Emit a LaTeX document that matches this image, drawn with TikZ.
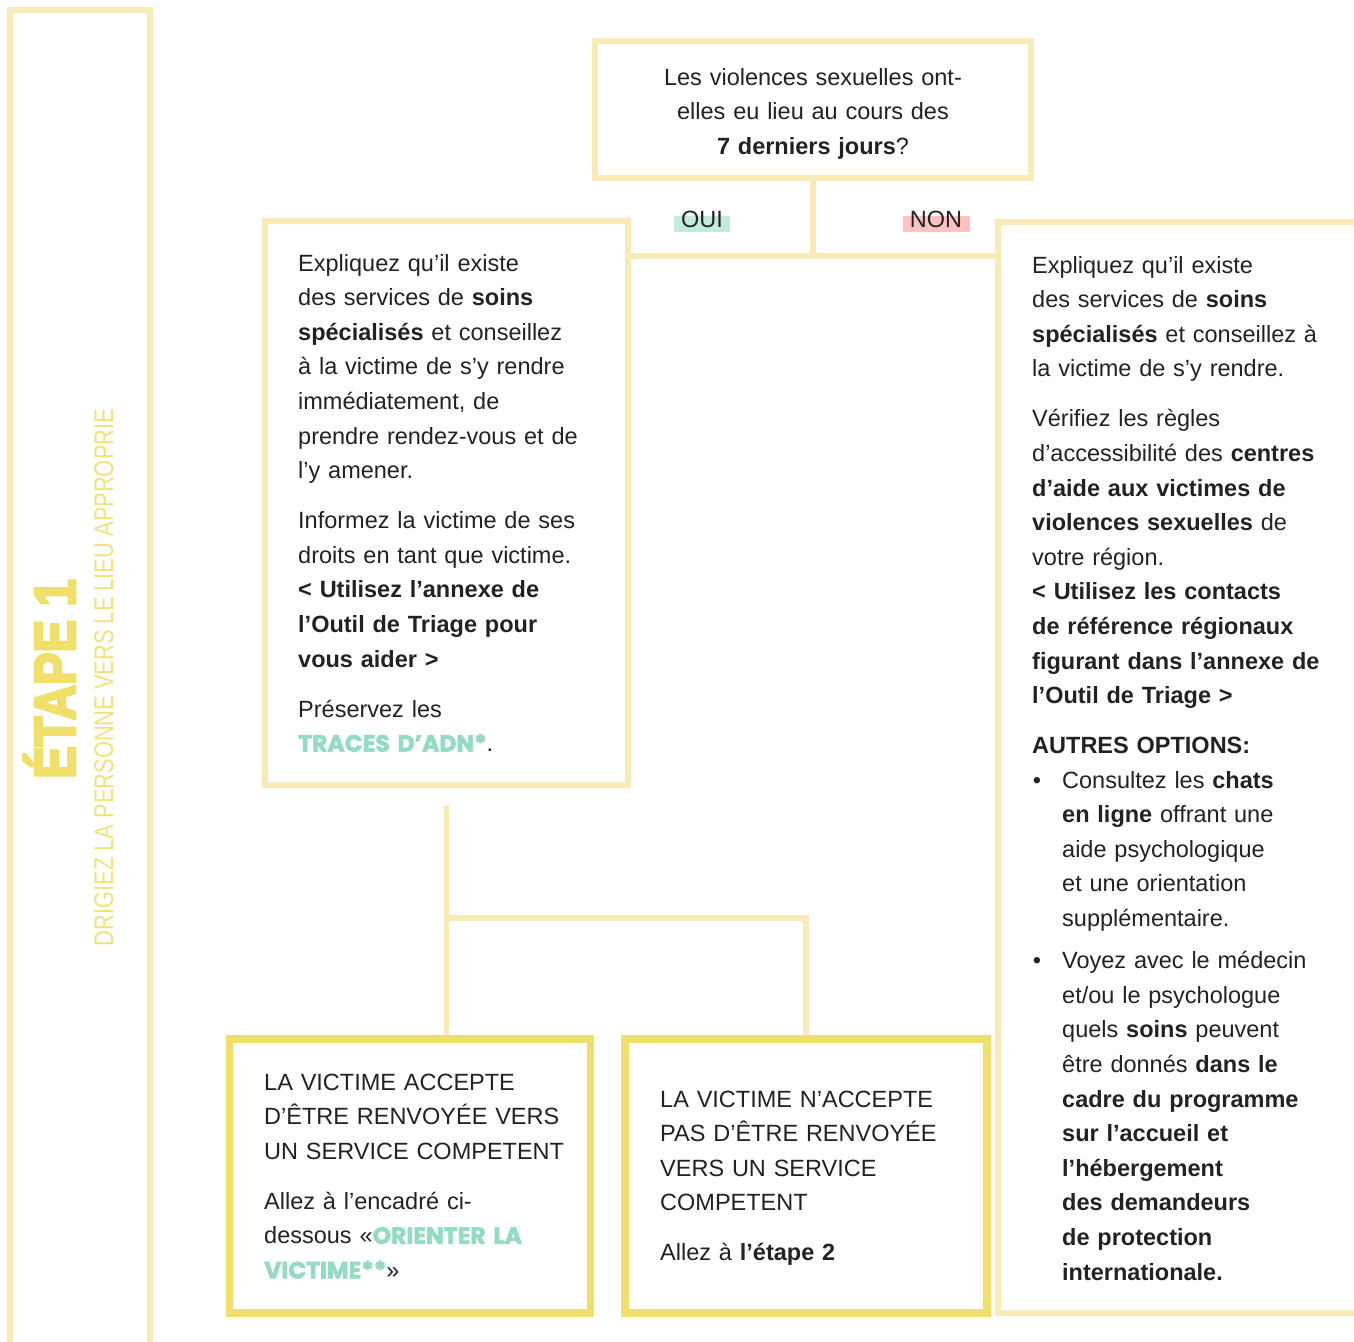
\documentclass[tikz,border=0pt]{standalone}
\usepackage{fontspec}
\usepackage{graphicx}
\setmainfont{Liberation Sans}
\newfontfamily\heavyfont{Poppins}[BoldFeatures={FakeBold=2.5}]
\newfontfamily\titlefont{Liberation Sans}[BoldFeatures={FakeBold=5}]
\definecolor{lineY}{HTML}{F8EBB8}
\definecolor{boxY}{HTML}{F0DF6A}
\definecolor{ink}{HTML}{222222}
\definecolor{mint}{HTML}{93DCC3}
\definecolor{mintbg}{HTML}{C3EBDD}
\definecolor{rosebg}{HTML}{FFC1C1}
\definecolor{titleY}{HTML}{F0DF6A}
\definecolor{subY}{HTML}{F2E27C}
\newcommand\hv[1]{{\heavyfont\bfseries\color{mint}#1}}
\newcommand\bul{\leavevmode\llap{•\hspace{21pt}}}
\begin{document}
\begin{tikzpicture}[x=1pt,y=-1pt,
  thinbox/.style={draw=lineY,line width=5.5pt,rectangle,inner sep=0pt},
  thickbox/.style={draw=boxY,line width=7.5pt,rectangle,inner sep=0pt},
  link/.style={draw=lineY,line width=5.5pt},
  txt/.style={font=\fontsize{23.5}{34.6}\selectfont,text=ink,inner sep=0pt},
  body/.style={txt,align=left,anchor=base west,text width=#1},
  ]
\useasboundingbox (0,0) rectangle (1354,1341);
% frames
\node[thinbox,minimum width=140pt,minimum height=1390pt] (strip) at (80,705) {};
\node[thinbox,minimum width=436pt,minimum height=137pt] (top) at (813,109.5) {};
\node[thinbox,minimum width=363pt,minimum height=564pt] (lbox) at (446.5,503) {};
\node[thinbox,minimum width=422pt,minimum height=1091pt] (rbox) at (1209,767.5) {};
\node[thickbox,minimum width=361pt,minimum height=274pt] (bl) at (410,1176) {};
\node[thickbox,minimum width=362pt,minimum height=274pt] (bm) at (806,1176) {};
% connectors
\coordinate (j) at (813,256);
\draw[link] (top.south) -- (j);
\draw[link] (lbox.east |- j) -- (rbox.west |- j);
\coordinate (k) at (446.5,805);
\coordinate (k2) at (446.5,918);
\draw[link] (k) -- (k |- bl.north);
\draw[link] (k2) -- (k2 -| bm.north) -- (bm.north);
% side title
\node[rotate=90,anchor=base,text=titleY,inner sep=0pt,font=\fontsize{58}{58}\selectfont\titlefont\bfseries] (etape) at (75,679) {\scalebox{0.84}[1]{ÉTAPE 1}};
\node[rotate=90,anchor=base,text=subY,inner sep=0pt,font=\fontsize{27}{27}\selectfont] (sub) at (113,677.5) {\scalebox{0.81}[1]{DRIGIEZ LA PERSONNE VERS LE LIEU APPROPRIE}};
% question
\node[txt,align=center,anchor=base,text width=430pt] (qtext) at (813,85) {Les violences sexuelles ont-\\elles eu lieu au cours des\\\textbf{7 derniers jours}?};
% labels
\fill[mintbg] (674,216) rectangle (730,232);
\node[txt,anchor=base] (oui) at (702,227) {OUI};
\fill[rosebg] (903,216) rectangle (970,232);
\node[txt,anchor=base] (non) at (936,227) {NON};
% left box text
\node[body=320pt] (ltext) at (298,271) {Expliquez qu’il existe\\
des services de \textbf{soins}\\
\textbf{spécialisés} et conseillez\\
à la victime de s’y rendre\\
immédiatement, de\\
prendre rendez-vous et de\\
l’y amener.\\[15.4pt]
Informez la victime de ses\\
droits en tant que victime.\\
\textbf{< Utilisez l’annexe de}\\
\textbf{l’Outil de Triage pour}\\
\textbf{vous aider >}\\[15.4pt]
Préservez les\\
\hv{TRACES D’ADN*}.};
% right box text
\node[body=330pt] (rtext) at (1032,273) {Expliquez qu’il existe\\
des services de \textbf{soins}\\
\textbf{spécialisés} et conseillez à\\
la victime de s’y rendre.\\[15.4pt]
Vérifiez les règles\\
d’accessibilité des \textbf{centres}\\
\textbf{d’aide aux victimes de}\\
\textbf{violences sexuelles} de\\
votre région.\\
\textbf{< Utilisez les contacts}\\
\textbf{de référence régionaux}\\
\textbf{figurant dans l’annexe de}\\
\textbf{l’Outil de Triage >}\\[15.4pt]
\textbf{AUTRES OPTIONS:}};
\node[body=290pt] (rlist) at (1062,788) {\bul Consultez les \textbf{chats}\\
\textbf{en ligne} offrant une\\
aide psychologique\\
et une orientation\\
supplémentaire.\\[7.6pt]
\bul Voyez avec le médecin\\
et/ou le psychologue\\
quels \textbf{soins} peuvent\\
être donnés \textbf{dans le}\\
\textbf{cadre du programme}\\
\textbf{sur l’accueil et}\\
\textbf{l’hébergement}\\
\textbf{des demandeurs}\\
\textbf{de protection}\\
\textbf{internationale.}};
% bottom boxes text
\node[body=310pt] (bltext) at (264,1090) {LA VICTIME ACCEPTE\\
D’ÊTRE RENVOYÉE VERS\\
UN SERVICE COMPETENT\\[15.4pt]
Allez à l’encadré ci-\\
dessous «\hv{ORIENTER LA}\\
\hv{VICTIME**}»};
\node[body=310pt] (bmtext) at (660,1107) {LA VICTIME N’ACCEPTE\\
PAS D’ÊTRE RENVOYÉE\\
VERS UN SERVICE\\
COMPETENT\\[15.4pt]
Allez à \textbf{l’étape 2}};
\end{tikzpicture}
\end{document}
